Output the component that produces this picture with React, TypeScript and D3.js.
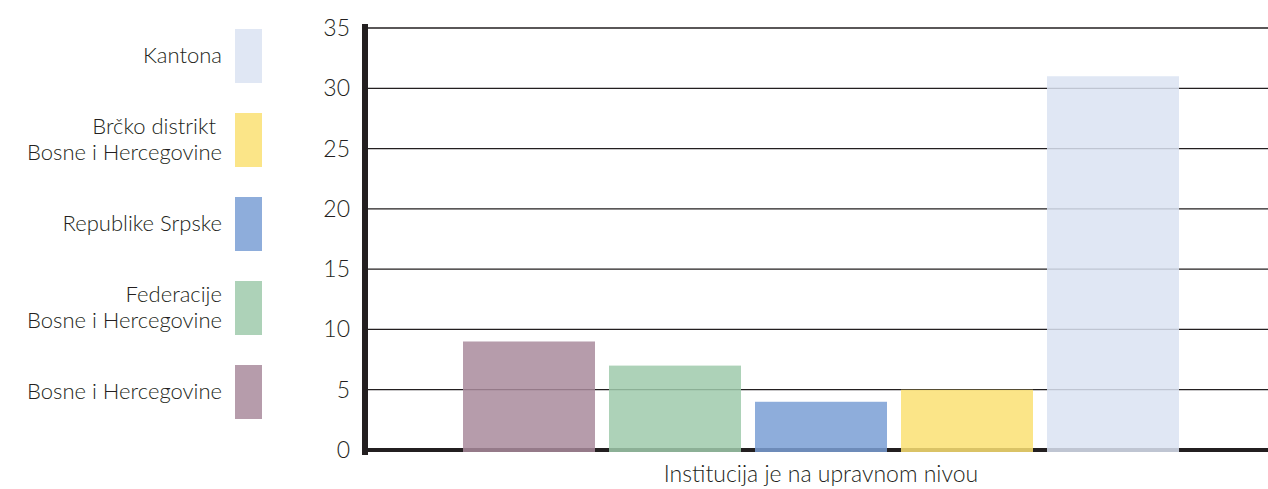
import React, { useEffect, useRef } from "react";
import * as d3 from "d3";

// series, in the order of the bars (left to right)
const seriesNames = [
  "Bosne i Hercegovine",
  "Federacije\nBosne i Hercegovine",
  "Republike Srpske",
  "Brčko distrikt \nBosne i Hercegovine",
  "Kantona",
];
const seriesValues = [9, 7, 4, 5, 31];
const seriesColors = ["#a98b9c", "#9fcaac", "#7a9fd5", "#fae173", "#dbe3f2"];
const yTicks = [0, 5, 10, 15, 20, 25, 30, 35];
const categoryLabel = "Institucija je na upravnom nivou";

const W = 1268;
const H = 489;
const FONT = "Lato, 'Noto Sans', sans-serif";
const INK = "#231f20";

export default function App() {
  const ref = useRef<SVGSVGElement>(null);

  useEffect(() => {
    const svg = d3.select(ref.current);
    svg.selectAll("*").remove();

    const axisX = 365;
    const y = d3.scaleLinear().domain([0, 35]).range([450, 28]);
    const x = d3
      .scaleBand<string>()
      .domain(seriesNames)
      .range([456, 1186])
      .paddingInner(14 / 146)
      .paddingOuter(7 / 146);

    // grid lines
    svg
      .append("g")
      .selectAll("line")
      .data(yTicks.filter((t) => t > 0))
      .enter()
      .append("line")
      .attr("x1", axisX)
      .attr("x2", W)
      .attr("y1", (d) => y(d))
      .attr("y2", (d) => y(d))
      .attr("stroke", INK)
      .attr("stroke-width", 1.3);

    // bottom axis
    svg
      .append("line")
      .attr("x1", axisX)
      .attr("x2", W)
      .attr("y1", y(0))
      .attr("y2", y(0))
      .attr("stroke", INK)
      .attr("stroke-width", 4);

    // left axis
    svg
      .append("line")
      .attr("x1", axisX)
      .attr("x2", axisX)
      .attr("y1", 24)
      .attr("y2", 455)
      .attr("stroke", INK)
      .attr("stroke-width", 6);

    // bars (semi transparent, grid shows through)
    svg
      .append("g")
      .selectAll("rect")
      .data(seriesValues)
      .enter()
      .append("rect")
      .attr("x", (d, i) => x(seriesNames[i]) as number)
      .attr("width", x.bandwidth())
      .attr("y", (d) => y(d))
      .attr("height", (d) => y(0) + 2 - y(d))
      .attr("fill", (d, i) => seriesColors[i])
      .attr("fill-opacity", 0.85);

    // y tick labels
    svg
      .append("g")
      .selectAll("text")
      .data(yTicks)
      .enter()
      .append("text")
      .attr("x", 350)
      .attr("y", (d) => y(d) + 8)
      .attr("text-anchor", "end")
      .attr("font-family", FONT)
      .attr("font-size", 23)
      .attr("font-weight", 300)
      .attr("fill", INK)
      .text((d) => d);

    // category label
    svg
      .append("text")
      .attr("x", 821)
      .attr("y", 482)
      .attr("text-anchor", "middle")
      .attr("font-family", FONT)
      .attr("font-size", 23)
      .attr("font-weight", 300)
      .attr("fill", INK)
      .text(categoryLabel);

    // legend (reverse order, top = last series)
    const legend = svg
      .append("g")
      .selectAll("g")
      .data(seriesNames.map((n, i) => i).reverse())
      .enter()
      .append("g")
      .attr("transform", (d, k) => `translate(0, ${29 + k * 84})`);

    legend
      .append("rect")
      .attr("x", 235)
      .attr("width", 27)
      .attr("height", 54)
      .attr("fill", (i) => seriesColors[i])
      .attr("fill-opacity", 0.85);

    legend.each(function (i) {
      const lines = seriesNames[i].split("\n");
      const t = d3
        .select(this)
        .append("text")
        .attr("text-anchor", "end")
        .attr("font-family", FONT)
        .attr("font-size", 22)
        .attr("font-weight", 300)
        .attr("fill", INK)
        .attr("xml:space", "preserve")
        .style("white-space", "pre");
      const y0 = lines.length === 1 ? 34 : 21;
      lines.forEach((l, j) => {
        t.append("tspan").attr("x", 222).attr("y", y0 + j * 26).text(l);
      });
    });
  }, []);

  return (
    <svg
      ref={ref}
      width={W}
      height={H}
      style={{ position: "absolute", left: 0, top: 0, background: "#fff" }}
    />
  );
}
